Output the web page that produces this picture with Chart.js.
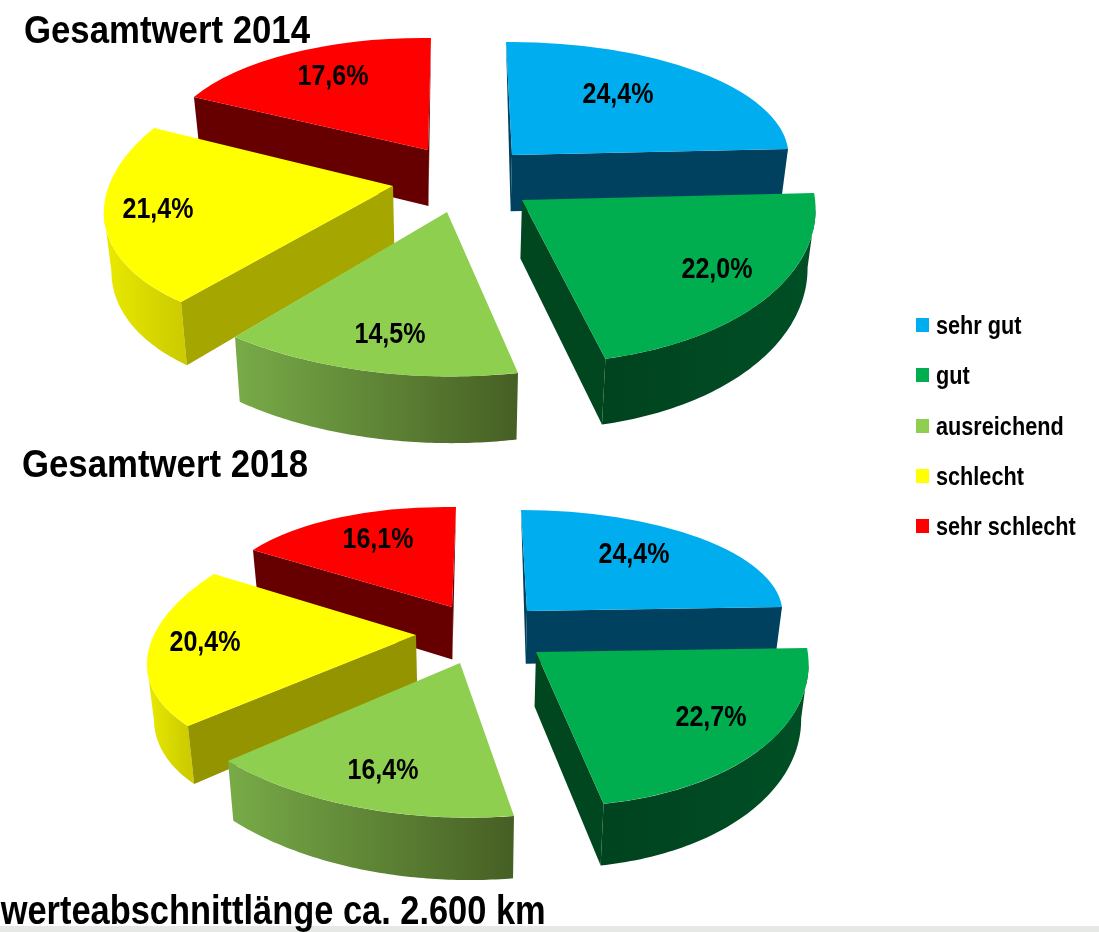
<!DOCTYPE html>
<html lang="de">
<head>
<meta charset="utf-8">
<title>Gesamtwert</title>
<script src="https://cdn.jsdelivr.net/npm/chart.js@4"></script>
<style>
  html,body{margin:0;padding:0;background:#fff;width:1099px;height:932px;overflow:hidden;}
  canvas{position:absolute;left:0;top:0;}
  body,#legend,#foot{font-family:"Liberation Sans",sans-serif;font-weight:bold;color:#000;}
  #band{position:absolute;left:0;top:926px;width:1099px;height:6px;background:#e6e8e6;}
  #foot{position:absolute;right:553px;top:887px;font-size:40px;line-height:46px;white-space:nowrap;transform:scaleX(.86);transform-origin:right center;}
  #legend{position:absolute;left:916px;top:300px;font-size:25px;}
  .row{position:absolute;left:0;white-space:nowrap;height:30px;line-height:30px;}
  .row i{position:absolute;left:0;top:8px;width:13px;height:14px;}
  .row span{position:absolute;left:20px;top:0;transform:scaleX(.867);transform-origin:left center;}
</style>
</head>
<body>
<div id="band"></div>
<canvas id="c2014" width="1099" height="932"></canvas>
<canvas id="c2018" width="1099" height="932"></canvas>
<div id="legend"></div>
<div id="foot">werteabschnittlänge ca. 2.600 km</div>
<script>
// ---- data ----
const categories = ["sehr gut", "gut", "ausreichend", "schlecht", "sehr schlecht"];
const values2014 = [24.4, 22.0, 14.5, 21.4, 17.6];
const values2018 = [24.4, 22.7, 16.4, 20.4, 16.1];
const title2014 = "Gesamtwert 2014";
const title2018 = "Gesamtwert 2018";

// ---- style ----
const topColors  = ["#00AEEF", "#00AE4F", "#8FCF50", "#FFFF00", "#FF0000"];
const faceColors = ["#00415F", "#00471F", "#4A6127", "#A6A600", "#660000"];
const faceColors18 = ["#00415F", "#00471F", "#4A6127", "#949400", "#660000"];
const rimLeft  = ["#00415F", "#00431F", "#78AB48", "#EAEA00", "#660000"];
const rimRight = ["#00415F", "#004F25", "#465F24", "#CCCC00", "#660000"];
const paintOrder = [0, 4, 3, 2, 1];

// per-slice view: explosion from the pie centre, projection matrix of the unit disc, label nudge
const explode2014 = [[62,-15],[72,30],[-3,42],[-57,16],[-22,-20]];
const project2014 = [[276.4,6,-1.9,113],[293,19,-1.2,163],[330.8,-2.3,3,164.4],[286.6,-38.7,-7.3,144.2],[263.2,-3,3.2,112]];
const nudge2014   = [[106,-62],[195,68],[-57,121],[-235,22],[-95,-75]];

const explode2018 = [[57,-29],[66,12],[-10,23],[-54,-5],[-18,-33]];
const project2018 = [[255.4,6,-0.2,101],[272,18.6,1.7,154],[307.7,-1.8,5.6,154.6],[265.6,-43.6,-8.3,128.2],[237.3,-4,4.7,100]];
const nudge2018   = [[107,-58],[175,64],[-77,106],[-211,6],[-74,-69]];

// wall extrusion with a slight perspective
const TAPER_X = 0.022, TAPER_Y = 0.047;

const FONT = '"Liberation Sans",sans-serif';

function pie3d(view) {
  return {
    id: 'pie3d',
    beforeDatasetsDraw(chart) {
      const ctx = chart.ctx, arcs = chart.getDatasetMeta(0).data;
      const values = chart.data.datasets[0].data;
      paintOrder.forEach(i => {
        const arc = arcs[i], R = arc.outerRadius;
        const ax = arc.x + view.explode[i][0], ay = arc.y + view.explode[i][1];
        const [a, b, c, d] = view.project[i];
        const drop = p => [p[0] + (arc.x - p[0]) * TAPER_X, p[1] + view.depth + (p[1] - arc.y) * TAPER_Y];
        const pt = t => [ax + a*Math.cos(t) + b*Math.sin(t), ay + c*Math.cos(t) + d*Math.sin(t)];
        const n = 72, rim = [];
        for (let k = 0; k <= n; k++) rim.push(pt(arc.startAngle + (arc.endAngle - arc.startAngle)*k/n));
        // outer wall: only the segments facing the viewer, as one path
        const front = [];
        for (let k = 0; k < n; k++) if (rim[k+1][0] < rim[k][0]) front.push(k);
        if (front.length) {
          const xs = front.flatMap(k => [rim[k][0], rim[k+1][0]]);
          const g = ctx.createLinearGradient(Math.min(...xs), 0, Math.max(...xs), 0);
          g.addColorStop(0, rimLeft[i]); g.addColorStop(1, rimRight[i]);
          ctx.fillStyle = g;
          ctx.beginPath();
          front.forEach(k => {
            const p = rim[k], q = rim[k+1], pb = drop(p), qb = drop(q);
            ctx.moveTo(p[0], p[1]); ctx.lineTo(q[0], q[1]);
            ctx.lineTo(qb[0], qb[1]); ctx.lineTo(pb[0], pb[1]);
            ctx.closePath();
          });
          ctx.fill('nonzero');
        }
        // cut faces
        ctx.fillStyle = view.faces[i];
        const apexB = drop([ax, ay]);
        [[rim[0], 1], [rim[n], -1]].forEach(([p, s]) => {
          const ex = p[0] - ax, ny = s > 0 ? -ex : ex;
          if (ny <= 0) return;
          const pb = drop(p);
          ctx.beginPath();
          ctx.moveTo(ax, ay); ctx.lineTo(p[0], p[1]);
          if (Math.abs(ex) > 20) ctx.lineTo(pb[0], pb[1]);  // steep edges show only a sliver
          ctx.lineTo(apexB[0], apexB[1]);
          ctx.closePath(); ctx.fill();
        });
        // top, drawn by the library's own arc element
        ctx.save();
        ctx.translate(ax, ay);
        ctx.transform(a/R, c/R, b/R, d/R, 0, 0);
        ctx.translate(-arc.x, -arc.y);
        arc.draw(ctx);
        ctx.restore();
      });
      // value labels
      ctx.fillStyle = '#000';
      ctx.font = 'bold 29px ' + FONT;
      ctx.textAlign = 'center'; ctx.textBaseline = 'middle';
      arcs.forEach((arc, i) => {
        const txt = values[i].toFixed(1).replace('.', ',') + '%';
        ctx.fillText(txt, arc.x + view.explode[i][0] + view.nudge[i][0],
                          arc.y + view.explode[i][1] + view.nudge[i][1] + 2, 71);
      });
      // heading
      ctx.font = 'bold 39px ' + FONT;
      ctx.textAlign = 'left'; ctx.textBaseline = 'alphabetic';
      ctx.fillText(view.title, view.titleAt[0], view.titleAt[1], 286);
      return false;
    }
  };
}

function makeChart(id, values, padding, view) {
  return new Chart(document.getElementById(id), {
    type: 'pie',
    data: { labels: categories, datasets: [{ data: values, backgroundColor: topColors, borderWidth: 0 }] },
    options: {
      responsive: false, animation: false,
      layout: { padding },
      plugins: { legend: { display: false }, tooltip: { enabled: false } }
    },
    plugins: [pie3d(view)]
  });
}

makeChart('c2014', values2014, { left: 24, right: 223, top: 54, bottom: 646 },
  { title: title2014, titleAt: [24, 43], depth: 57, explode: explode2014, project: project2014, nudge: nudge2014, faces: faceColors });
makeChart('c2018', values2018, { left: 22, right: 181, top: 488, bottom: 140 },
  { title: title2018, titleAt: [22, 477], depth: 54, explode: explode2018, project: project2018, nudge: nudge2018, faces: faceColors18 });

// legend
const legendEl = document.getElementById('legend');
categories.forEach((name, i) => {
  const row = document.createElement('div');
  row.className = 'row';
  row.style.top = (10 + i * 50.25) + 'px';
  const box = document.createElement('i'); box.style.background = topColors[i];
  const txt = document.createElement('span'); txt.textContent = name;
  row.append(box, txt); legendEl.append(row);
});
</script>
</body>
</html>
